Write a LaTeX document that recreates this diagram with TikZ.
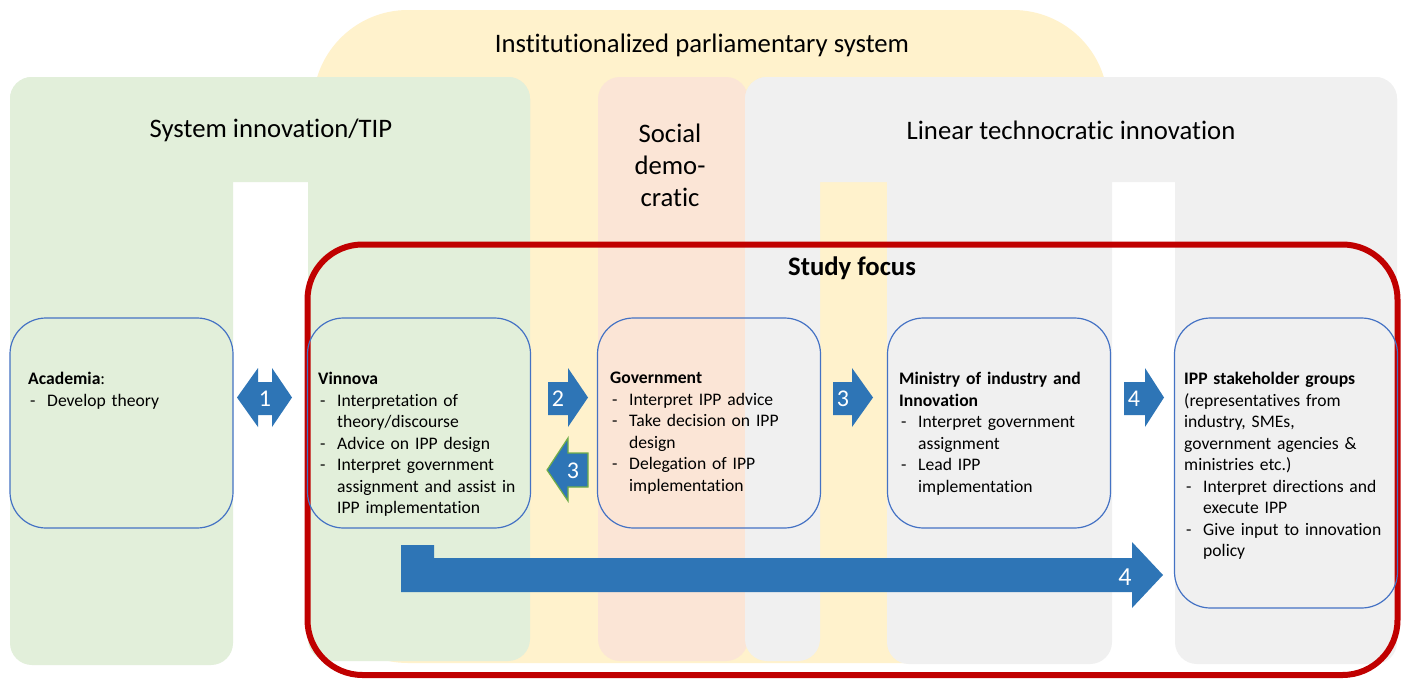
\documentclass[tikz,border=0pt]{standalone}
\usepackage{fontspec}
\setmainfont{Carlito}[Ligatures=NoCommon]
\usepackage{tikz}

\definecolor{parlyellow}{HTML}{FFF2CC}
\definecolor{tipgreen}{HTML}{E2EFDA}
\definecolor{socsalmon}{HTML}{FBE5D6}
\definecolor{lingray}{HTML}{F0F0F0}
\definecolor{focusred}{HTML}{C00000}
\definecolor{boxblue}{HTML}{4472C4}
\definecolor{arrowblue}{HTML}{2E75B6}
\definecolor{arrowgreen}{HTML}{70AD47}

\newcommand{\dashitem}[1]{\par\noindent\hangindent=19pt\hangafter=1\makebox[19pt][l]{\hspace{2pt}-}#1\par}

\begin{document}
\begin{tikzpicture}[x=1pt,y=-1pt,
  actor/.style={draw=boxblue,line width=1.2pt,rounded corners=36pt,minimum width=223pt,minimum height=210pt,inner sep=0pt},
  boxtext/.style={anchor=north west,inner sep=0pt,text width=212pt,align=left,font=\fontsize{17.6}{21.5}\selectfont},
  areatitle/.style={inner sep=0pt,font=\fontsize{26.7}{32}\selectfont},
  arrowlabel/.style={text=white,inner sep=0pt,font=\fontsize{24}{24}\selectfont}]
\useasboundingbox (0,0) rectangle (1401,678);
\fill [white] (0,0) rectangle (1401,678);
% background areas
\fill [parlyellow, rounded corners=95pt] (313,10) rectangle (1108,663);
\fill [tipgreen, rounded corners=22pt] (10,77) rectangle (530,182);
\fill [tipgreen, rounded corners=22pt] (10,77) rectangle (233,665);
\fill [tipgreen, rounded corners=22pt] (308,77) rectangle (530,661);
\fill [socsalmon, rounded corners=22pt] (598,77) rectangle (748,661);
\fill [lingray, rounded corners=22pt] (745,77) rectangle (1397,182);
\fill [lingray, rounded corners=22pt] (745,77) rectangle (820,661);
\fill [lingray, rounded corners=22pt] (887,77) rectangle (1112,664);
\fill [lingray, rounded corners=22pt] (1175,77) rectangle (1397,664);
\node [areatitle] (parl) at (702,45) {Institutionalized parliamentary system};
\node [areatitle] (tip) at (271,130) {System innovation/TIP};
\node [areatitle, align=center] (soc) at (670,165) {Social\\demo-\\cratic};
\node [areatitle] (linear) at (1071,130) {Linear technocratic innovation};
% study focus
\draw [focusred, line width=6pt, rounded corners=55pt] (307.5,244.5) rectangle (1397.5,675);
\node [areatitle, font=\fontsize{26.7}{32}\selectfont\bfseries] (focus) at (852,268) {Study focus};
% actors
\node [actor] (acad) at (121.5,423) {};
\node [actor] (vinn) at (419,423) {};
\node [actor] (gov) at (709,423) {};
\node [actor] (mini) at (999,423) {};
\node [actor, minimum height=290pt] (ipp) at (1286,463) {};
\node [boxtext] (acadtxt) at (28,372) {\textbf{Academia}:\dashitem{Develop theory}};
\node [boxtext] (vinntxt) at (318,372) {\textbf{Vinnova}\dashitem{Interpretation of\newline theory/discourse}\dashitem{Advice on IPP design}\dashitem{Interpret government\newline assignment and assist in\newline IPP implementation}};
\node [boxtext] (govtxt) at (610,372) {\textbf{Government}\dashitem{Interpret IPP advice}\dashitem{Take decision on IPP\newline design}\dashitem{Delegation of IPP\newline implementation}};
\node [boxtext] (minitxt) at (899,372) {\textbf{Ministry of industry and\newline Innovation}\dashitem{Interpret government\newline assignment}\dashitem{Lead IPP\newline implementation}};
\node [boxtext] (ipptxt) at (1184,372) {\textbf{IPP stakeholder groups}\newline (representatives from\newline industry, SMEs,\newline government agencies \&\newline ministries etc.)\dashitem{Interpret directions and\newline execute IPP}\dashitem{Give input to innovation\newline policy}};
% block arrows
\fill [arrowblue] (237,397.5) -- (258,368) -- (258,382) -- (272,382) -- (272,368) -- (292,397.5) -- (272,427) -- (272,415) -- (258,415) -- (258,427) -- cycle;
\node [arrowlabel] (one) at (265,399) {1};
\fill [arrowblue] (548,382) -- (568,382) -- (568,368) -- (588,397.5) -- (568,427) -- (568,415) -- (548,415) -- cycle;
\node [arrowlabel] (two) at (558,399) {2};
\filldraw [fill=arrowblue, draw=arrowgreen, line width=1.2pt] (588,453) -- (568,453) -- (568,438) -- (547,470) -- (568,501) -- (568,487) -- (588,487) -- cycle;
\node [arrowlabel] (threeback) at (573,471) {3};
\fill [arrowblue] (833,382) -- (852,382) -- (852,368) -- (873,397.5) -- (852,427) -- (852,415) -- (833,415) -- cycle;
\node [arrowlabel] (three) at (843,399) {3};
\fill [arrowblue] (1124,382) -- (1145,382) -- (1145,368) -- (1164,397.5) -- (1145,427) -- (1145,415) -- (1124,415) -- cycle;
\node [arrowlabel] (four) at (1134,399) {4};
\fill [arrowblue] (401,545) -- (434,545) -- (434,558) -- (1132,558) -- (1132,542) -- (1163,575) -- (1132,608) -- (1132,592) -- (401,592) -- cycle;
\node [arrowlabel, font=\fontsize{26}{26}\selectfont] (fourlong) at (1125,577) {4};
\end{tikzpicture}
\end{document}
